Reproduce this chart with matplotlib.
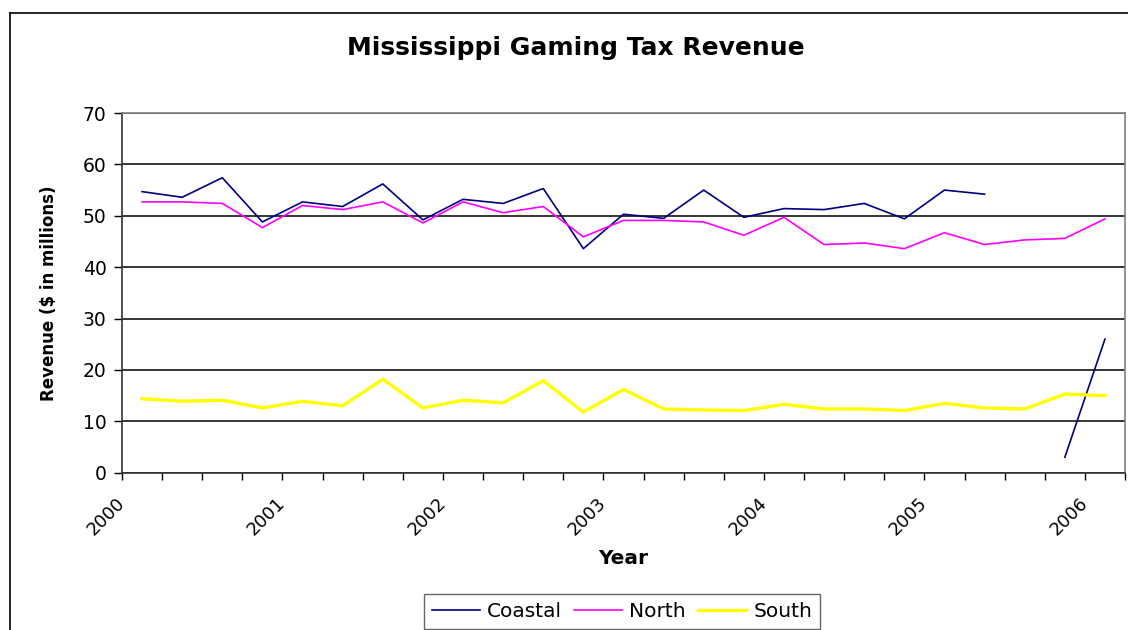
import numpy as np
import matplotlib
matplotlib.use("Agg")
import matplotlib.pyplot as plt
from matplotlib.lines import Line2D

plt.rcParams['font.family'] = ['DejaVu Sans']

# quarterly revenue, 2000 Q1 .. 2006 Q1 ($ in millions)
coastal = [54.7, 53.6, 57.4, 48.8, 52.7, 51.8, 56.2, 49.2, 53.2, 52.4, 55.3, 43.6,
           50.3, 49.5, 55.0, 49.7, 51.4, 51.2, 52.4, 49.4, 55.0, 54.2, np.nan, 3.0, 26.0]
north = [52.7, 52.7, 52.4, 47.7, 52.0, 51.2, 52.7, 48.6, 52.7, 50.6, 51.8, 45.9,
         49.1, 49.1, 48.8, 46.2, 49.7, 44.4, 44.7, 43.6, 46.7, 44.4, 45.3, 45.6, 49.4]
south = [14.4, 13.9, 14.1, 12.6, 13.9, 13.0, 18.2, 12.6, 14.1, 13.6, 17.9, 11.8,
         16.2, 12.4, 12.2, 12.1, 13.3, 12.4, 12.4, 12.1, 13.5, 12.6, 12.4, 15.3, 15.0]
years = ['2000', '2001', '2002', '2003', '2004', '2005', '2006']

n = len(north)
x = np.arange(n) + 0.5

fig = plt.figure(figsize=(11.28, 6.3), dpi=100)
ax = fig.add_axes([122/1128, 1 - 472.7/630, (1125 - 122)/1128, (472.7 - 113)/630])

ax.plot(x, coastal, color='#000080', lw=1.2, label='Coastal')
ax.plot(x, north, color='#FF00FF', lw=1.2, label='North')
ax.plot(x, south, color='#FFFF00', lw=2.4, label='South')

ax.set_xlim(0, n)
ax.set_ylim(0, 70)
ax.set_yticks(np.arange(0, 71, 10))
ax.yaxis.grid(True, color='black', lw=1.1)
ax.set_axisbelow(True)

ax.set_xticks(np.arange(0, n + 1), minor=True)
ax.set_xticks(np.arange(0, n + 1, 4))
ax.set_xticklabels(years, rotation=45, ha='right', va='center',
                   rotation_mode='anchor', fontsize=13)
ax.tick_params(axis='x', which='both', direction='out', length=5, width=1, pad=15)
ax.tick_params(axis='y', direction='out', length=6, width=1, labelsize=13.5, pad=5)

for s in ['top', 'right']:
    ax.spines[s].set_color('#808080')
    ax.spines[s].set_linewidth(1.2)
for s in ['left', 'bottom']:
    ax.spines[s].set_color('#333333')
    ax.spines[s].set_linewidth(1.2)

ax.set_xlabel('Year', fontsize=14.5, fontweight='bold', labelpad=7)
ax.set_ylabel('Revenue ($ in millions)', fontsize=12, fontweight='bold', labelpad=18)
fig.suptitle('Mississippi Gaming Tax Revenue', x=576/1128, y=1 - 48/630,
             va='center', fontsize=18, fontweight='bold')

leg = fig.legend(loc='upper center', bbox_to_anchor=(622/1128, 1 - 594/630),
                 ncol=3, fontsize=14.5, frameon=True, fancybox=False,
                 handlelength=2.4, handletextpad=0.35, columnspacing=0.6,
                 borderpad=0.4, borderaxespad=0)
leg.get_frame().set_edgecolor('#404040')
leg.get_frame().set_linewidth(1.0)

# outer chart border (cut off at right and bottom)
fig.add_artist(Line2D([10/1128, 10/1128], [0, 1 - 13/630], color='black', lw=1.2))
fig.add_artist(Line2D([10/1128, 1], [1 - 13/630, 1 - 13/630], color='black', lw=1.2))

fig.savefig('out.png', dpi=100)
